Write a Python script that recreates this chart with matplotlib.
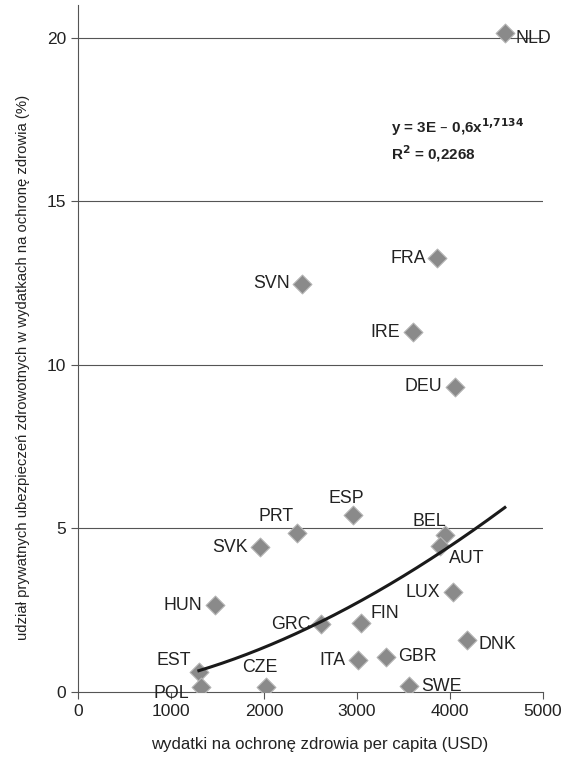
import numpy as np
import matplotlib
matplotlib.use("Agg")
import matplotlib.pyplot as plt

plt.rcParams['font.family'] = ['Liberation Sans', 'DejaVu Sans']

# health spending per capita (USD) and private insurance share (%)
countries = ['NLD', 'FRA', 'SVN', 'IRE', 'DEU', 'ESP', 'PRT', 'SVK', 'BEL', 'AUT',
             'LUX', 'HUN', 'GRC', 'FIN', 'DNK', 'EST', 'ITA', 'GBR', 'CZE', 'POL', 'SWE']
spending = [4590, 3860, 2410, 3600, 4050, 2960, 2355, 1960, 3945, 3890,
            4030, 1475, 2610, 3045, 4185, 1300, 3010, 3310, 2020, 1325, 3555]
share = [20.15, 13.27, 12.48, 11.0, 9.33, 5.41, 4.86, 4.43, 4.8, 4.46,
         3.05, 2.65, 2.07, 2.1, 1.58, 0.62, 0.97, 1.07, 0.15, 0.15, 0.18]

# power trend fit y = a * x^b
fit_a = 3e-6
fit_b = 1.7134
fit_r2 = 0.2268

# label placement (offset in points, horizontal alignment)
label_pos = {
    'NLD': (8, -4, 'left'), 'FRA': (-8, 0, 'right'), 'SVN': (-9, 0, 'right'),
    'IRE': (-9, 0, 'right'), 'DEU': (-9, 0, 'right'), 'ESP': (-5, 12, 'center'),
    'PRT': (-15, 12, 'center'), 'SVK': (-9, 0, 'right'), 'BEL': (1, 10, 'right'),
    'AUT': (7, -9, 'left'), 'LUX': (-9, 0, 'right'), 'HUN': (-9, 0, 'right'),
    'GRC': (-7, 0, 'right'), 'FIN': (7, 7, 'left'), 'DNK': (8, -3, 'left'),
    'EST': (-6, 8, 'right'), 'ITA': (-9, 0, 'right'), 'GBR': (9, 0, 'left'),
    'CZE': (-4, 14, 'center'), 'POL': (-9, -5, 'right'), 'SWE': (9, 0, 'left'),
}

fig = plt.figure(figsize=(5.65, 7.57), dpi=100)
ax = fig.add_axes([0.138, 0.086, 0.823, 0.907])

ax.scatter(spending, share, marker='D', s=92, color='#8a8a8a',
           edgecolor='#b5b5b5', linewidth=0.8, zorder=3)

for name, x, y in zip(countries, spending, share):
    dx, dy, ha = label_pos[name]
    ax.annotate(name, (x, y), xytext=(dx, dy), textcoords='offset points',
                ha=ha, va='center', fontsize=12.8, color='#222222', zorder=4)

xs = np.linspace(min(spending), max(spending), 200)
ax.plot(xs, fit_a * xs ** fit_b, color='#1a1a1a', lw=2.2, zorder=5)

ax.text(3370, 17.28, 'y = 3E – 0,6x$^{\\mathbf{1{,}7134}}$', fontsize=11, fontweight='bold',
        color='#222222', va='center')
ax.text(3370, 16.45, 'R$^{\\mathbf{2}}$ = 0,2268', fontsize=11, fontweight='bold',
        color='#222222', va='center')

ax.set_xlim(0, 5000)
ax.set_ylim(0, 21)
ax.set_xticks([0, 1000, 2000, 3000, 4000, 5000])
ax.set_yticks([0, 5, 10, 15, 20])
for yv in [5, 10, 15, 20]:
    ax.axhline(yv, color='#555555', lw=0.8, zorder=1)

for side in ['top', 'right']:
    ax.spines[side].set_visible(False)
for side in ['left', 'bottom']:
    ax.spines[side].set_color('#555555')
    ax.spines[side].set_linewidth(0.8)
ax.tick_params(direction='out', length=5, width=0.8, color='#555555',
               labelsize=12.5, labelcolor='#222222')

ax.set_xlabel('wydatki na ochronę zdrowia per capita (USD)', fontsize=12.1,
              color='#222222')
ax.set_ylabel('udział prywatnych ubezpieczeń zdrowotnych w wydatkach na ochronę zdrowia (%)',
              fontsize=10.7, color='#222222')
ax.xaxis.set_label_coords(0.52, -0.065)
ax.yaxis.set_label_coords(-0.103, 0.472)

fig.savefig('out.png', dpi=100)
